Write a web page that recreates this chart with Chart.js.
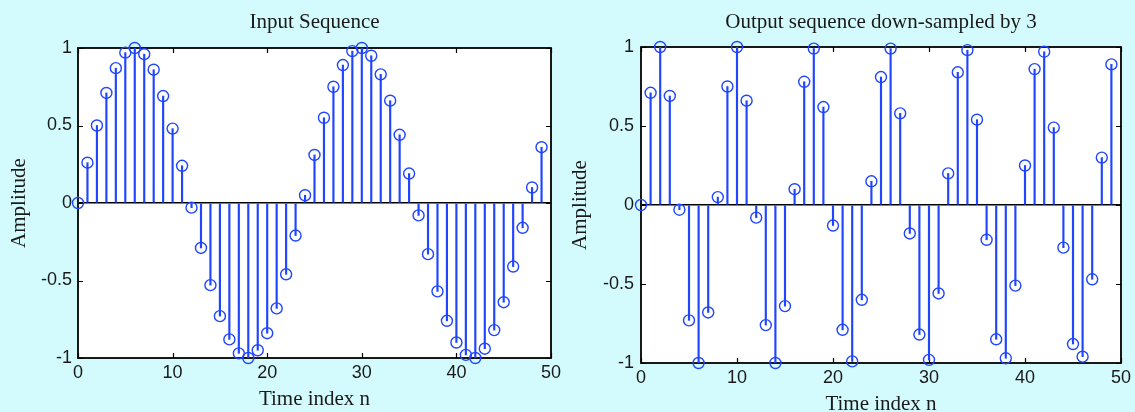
<!DOCTYPE html>
<html>
<head>
<meta charset="utf-8">
<title>Down-sampling</title>
<script src="https://cdn.jsdelivr.net/npm/chart.js@4.4.1/dist/chart.umd.min.js"></script>
<style>
  html, body { margin: 0; padding: 0; background: #d3fafc; }
  #wrap { position: relative; width: 1135px; height: 412px; overflow: hidden; }
  canvas { position: absolute; top: 0; }
</style>
</head>
<body>
<div id="wrap">
  <canvas id="inChart" width="567" height="412" style="left:0"></canvas>
  <canvas id="outChart" width="568" height="412" style="left:567px"></canvas>
</div>
<script>
"use strict";
// sample index n
var nIdx = [0, 1, 2, 3, 4, 5, 6, 7, 8, 9, 10, 11, 12, 13, 14, 15, 16, 17, 18, 19,
  20, 21, 22, 23, 24, 25, 26, 27, 28, 29, 30, 31, 32, 33, 34, 35, 36, 37, 38, 39,
  40, 41, 42, 43, 44, 45, 46, 47, 48, 49];

// input sequence x[n]
var inputSeq = [0, 0.26, 0.50, 0.71, 0.87, 0.97, 1.00, 0.96, 0.86, 0.69,
  0.48, 0.24, -0.03, -0.29, -0.53, -0.73, -0.88, -0.97, -1.00, -0.95,
  -0.84, -0.68, -0.46, -0.21, 0.05, 0.31, 0.55, 0.75, 0.89, 0.98,
  1.00, 0.95, 0.83, 0.66, 0.44, 0.19, -0.08, -0.33, -0.57, -0.76,
  -0.90, -0.98, -1.00, -0.94, -0.82, -0.64, -0.41, -0.16, 0.10, 0.36];

// output y[n], down-sampled by 3
var outputSeq = [0, 0.71, 1.00, 0.69, -0.03, -0.73, -1.00, -0.68, 0.05, 0.75,
  1.00, 0.66, -0.08, -0.76, -1.00, -0.64, 0.10, 0.78, 0.99, 0.62,
  -0.13, -0.79, -0.99, -0.60, 0.15, 0.81, 0.99, 0.58, -0.18, -0.82,
  -0.98, -0.56, 0.20, 0.84, 0.98, 0.54, -0.22, -0.85, -0.97, -0.51,
  0.25, 0.86, 0.97, 0.49, -0.27, -0.88, -0.96, -0.47, 0.30, 0.89];

var xTicks = [0, 10, 20, 30, 40, 50];
var yTicks = [-1, -0.5, 0, 0.5, 1];

var stemColor = "#1f45ff";
var textColor = "#1a1a1a";
var serif = { family: "'Liberation Serif', 'Times New Roman', serif", size: 21, lineHeight: 1.2 };
var sans = { family: "'Liberation Sans', Arial, sans-serif", size: 18 };

// white plot area, black box and inward ticks on all four sides
var framePlugin = {
  id: "frame",
  beforeDraw: function (chart) {
    var a = chart.chartArea, ctx = chart.ctx;
    ctx.save();
    ctx.fillStyle = "#fff";
    ctx.fillRect(a.left, a.top, a.right - a.left, a.bottom - a.top);
    ctx.restore();
  },
  beforeDatasetsDraw: function (chart) {
    var a = chart.chartArea, ctx = chart.ctx;
    var xs = chart.scales.x, ys = chart.scales.y;
    ctx.save();
    ctx.strokeStyle = "#000";
    ctx.lineWidth = 1.2;
    ctx.beginPath();
    xs.ticks.forEach(function (t) {
      var px = Math.round(xs.getPixelForValue(t.value)) + 0.5;
      ctx.moveTo(px, a.bottom); ctx.lineTo(px, a.bottom - 5);
      ctx.moveTo(px, a.top); ctx.lineTo(px, a.top + 5);
    });
    ys.ticks.forEach(function (t) {
      var py = Math.round(ys.getPixelForValue(t.value)) + 0.5;
      ctx.moveTo(a.left, py); ctx.lineTo(a.left + 5, py);
      ctx.moveTo(a.right, py); ctx.lineTo(a.right - 5, py);
    });
    ctx.stroke();
    ctx.lineWidth = 1.8;
    ctx.strokeRect(a.left, a.top, a.right - a.left, a.bottom - a.top);
    ctx.restore();
  }
};

function stemChart(id, values, title, box) {
  var stems = nIdx.map(function (n, i) { return { x: n, y: [0, values[i]] }; });
  var heads = nIdx.map(function (n, i) { return { x: n, y: values[i] }; });

  return new Chart(document.getElementById(id), {
    type: "bar",
    data: {
      datasets: [
        {
          type: "scatter",
          data: heads,
          order: 0,
          pointStyle: "circle",
          pointRadius: 5.5,
          pointBorderWidth: 1.4,
          pointBorderColor: stemColor,
          pointBackgroundColor: "rgba(0,0,0,0)",
          clip: false
        },
        {
          type: "bar",
          data: stems,
          order: 1,
          backgroundColor: stemColor,
          barThickness: 1.5,
          borderWidth: 0,
          grouped: false
        }
      ]
    },
    options: {
      responsive: false,
      animation: false,
      layout: { padding: { left: 0, right: box.right, top: 0, bottom: 0 } },
      plugins: { legend: { display: false }, tooltip: { enabled: false } },
      scales: {
        x: {
          type: "linear",
          position: "bottom",
          min: 0, max: 50,
          offset: false,
          afterBuildTicks: function (s) { s.ticks = xTicks.map(function (v) { return { value: v }; }); },
          ticks: {
            font: sans, color: textColor, padding: 4, maxRotation: 0, autoSkip: false,
            callback: function (v) { return String(v); }
          },
          grid: { display: false, drawTicks: false },
          border: { display: false },
          title: {
            display: true, text: "Time index n", font: serif, color: textColor,
            padding: { top: 0, bottom: box.xTitle }
          },
          afterFit: function (s) { s.height = box.xHeight; }
        },
        x2: {
          type: "linear",
          position: "top",
          display: true,
          min: 0, max: 50,
          ticks: { display: false },
          grid: { display: false, drawTicks: false },
          border: { display: false },
          title: {
            display: true, text: title, font: serif, color: textColor,
            padding: { top: box.topTitle, bottom: 0 }
          },
          afterFit: function (s) { s.height = box.top; }
        },
        y: {
          type: "linear",
          min: -1, max: 1,
          afterBuildTicks: function (s) { s.ticks = yTicks.map(function (v) { return { value: v }; }); },
          ticks: {
            font: sans, color: textColor, padding: box.yPad,
            callback: function (v) { return String(v); }
          },
          grid: {
            drawTicks: false,
            lineWidth: 1.5,
            color: function (c) { return c.tick && c.tick.value === 0 ? "#000" : "rgba(0,0,0,0)"; }
          },
          border: { display: false },
          title: {
            display: true, text: "Amplitude", font: serif, color: textColor,
            padding: { top: box.yTitle, bottom: 0 }
          },
          afterFit: function (s) { s.width = box.left; }
        }
      }
    },
    plugins: [framePlugin]
  });
}

stemChart("inChart", inputSeq, "Input Sequence",
  { left: 78, right: 16, top: 48, xHeight: 54, xTitle: 0.4, topTitle: 9.4, yTitle: 6.4, yPad: 6 });
stemChart("outChart", outputSeq, "Output sequence down-sampled by 3",
  { left: 74, right: 13, top: 47, xHeight: 49, xTitle: -4.6, topTitle: 9.4, yTitle: 0.4, yPad: 7 });
</script>
</body>
</html>
